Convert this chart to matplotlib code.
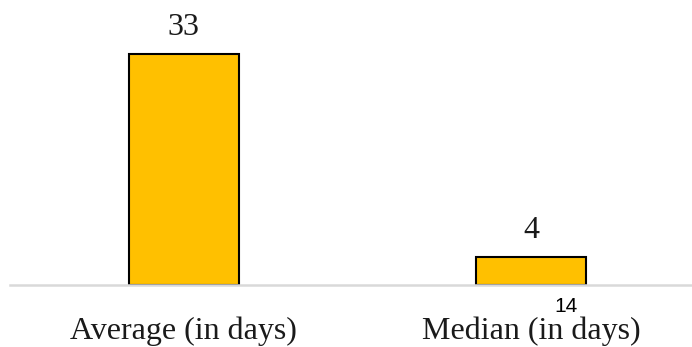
import matplotlib.pyplot as plt

categories = ["Average (in days)", "Median (in days)"]
values = [33, 4]
page_number = "14"

fig = plt.figure(figsize=(6.92, 3.47), dpi=100)
ax = fig.add_axes([10 / 692, 62 / 347, 682 / 692, 285 / 347])

x = list(range(len(categories)))
bars = ax.bar(x, values, width=0.317, color="#FFC000", edgecolor="black", linewidth=1.5, zorder=2)

ax.set_xlim(-0.5, 1.464)
ax.set_ylim(0, 40.7)

for spine in ["top", "right", "left"]:
    ax.spines[spine].set_visible(False)
ax.spines["bottom"].set_color("#D9D9D9")
ax.spines["bottom"].set_linewidth(1.8)
ax.set_yticks([])
ax.set_xticks(x)
ax.set_xticklabels(categories, family="Liberation Serif", fontsize=23, color="#1a1a1a")
ax.tick_params(axis="x", length=0, pad=23)

for rect, v in zip(bars, values):
    ax.annotate(str(v), (rect.get_x() + rect.get_width() / 2, v),
                xytext=(0, 8.5), textcoords="offset points",
                ha="center", va="bottom", family="Liberation Serif",
                fontsize=23, color="#1a1a1a")

fig.text(566 / 692, 1 - 306 / 347, page_number, family="Liberation Sans",
         fontsize=15, ha="center", va="center", color="black")

fig.savefig("out.png", dpi=100)
